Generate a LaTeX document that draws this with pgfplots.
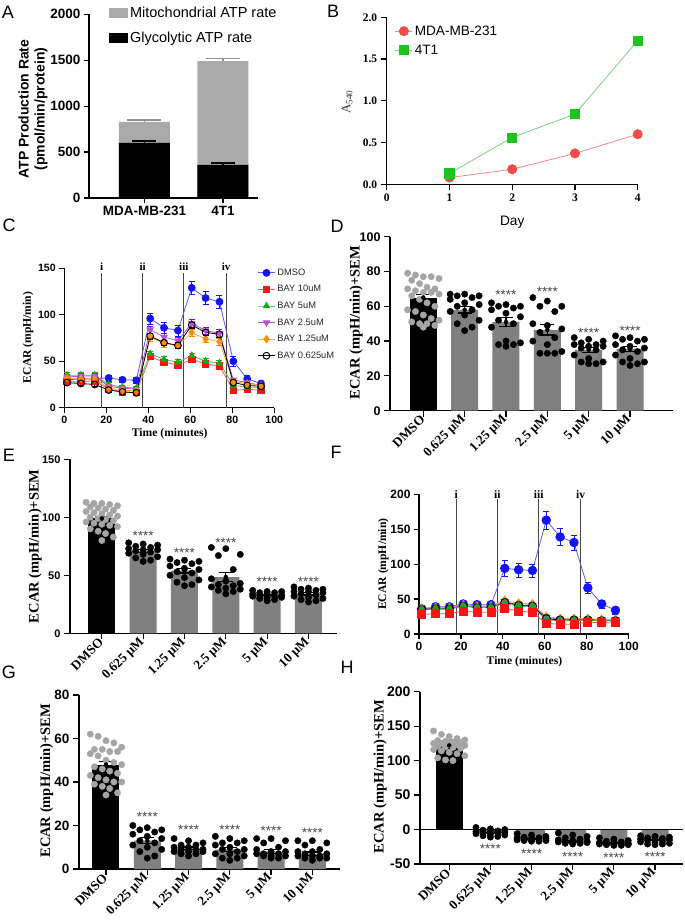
\documentclass[border=0pt]{standalone}
\usepackage{fontspec}
\setmainfont{Liberation Serif}
\setsansfont{Liberation Sans}
\usepackage{pgfplots}
\usepackage{pgfplotstable}
\pgfplotsset{compat=1.18}

\definecolor{atpgray}{RGB}{170,170,170}
\definecolor{bargray}{RGB}{128,128,128}
\definecolor{dotgray}{RGB}{165,165,165}
\definecolor{mdared}{RGB}{240,75,75}
\definecolor{mdaline}{RGB}{245,135,135}
\definecolor{tgreen}{RGB}{30,195,30}
\definecolor{tline}{RGB}{120,210,120}
\definecolor{cblue}{RGB}{20,20,250}
\definecolor{cblueL}{RGB}{90,90,250}
\definecolor{cred}{RGB}{250,20,20}
\definecolor{credL}{RGB}{250,90,90}
\definecolor{cgreen}{RGB}{20,170,20}
\definecolor{cgreenL}{RGB}{80,190,80}
\definecolor{cpurp}{RGB}{160,0,210}
\definecolor{cpurpL}{RGB}{180,80,220}
\definecolor{corange}{RGB}{250,140,0}
\definecolor{corangeL}{RGB}{250,170,70}
\definecolor{vline}{RGB}{70,70,70}
\definecolor{stargray}{RGB}{70,70,70}

% Seahorse time course, panel C
\pgfplotstableread{
t    a    ae  b    be  c    ce  d    de  e    ee  f    fe
1.3  30   4   28   2   35   3   33   3   32   3   27   2
7.9  31   4   28   2   35   3   34   3   31   3   26   2
14.5 31   4   29   2   35   3   34   3   31   3   25   2
21.1 32   3   20   2   25   2   23   2   21   2   19   2
27.7 30   3   17   2   22   2   21   2   19   2   17   2
34.3 29.5 3   16.5 2   21   2   20   2   18   2   16   2
40.9 96   6   55   3   58   3   84   4   76   4   77   3
47.5 86   6   49   3   52   3   76   4   69   4   70   3
54.1 83   6   46   3   49   3   72   4   67   3   67   3
60.7 129  7   52   3   56   3   91   4   81   4   89   3
67.3 118  7   47   3   50   3   83   4   74   4   81   3
73.9 114  7   45   3   48   3   80   4   71   4   79   3
80.5 50   5   18.5 2   24   2   30   2   28   2   27   2
87.1 31   4   20   2   22   2   27   2   26   2   24   2
93.7 26   3   18.5 2   22   2   24   2   24   2   23   2
}\ctab

% panel F
\pgfplotstableread{
t    a    ae  b    be  c    ce  d    de  e    ee  f    fe
1.3  36   4   28   3   35   3   36   3   37   3   35   3
7.9  39   4   29   3   36   3   37   3   38   3   36   3
14.5 39   4   29   3   36   3   37   3   38   3   36   3
21.1 43   5   33   3   40   3   41   3   42   3   40   3
27.7 42   5   31   3   38   3   39   3   40   3   38   3
34.3 42   5   31   3   38   3   39   3   40   3   38   3
40.9 94   11  37   3   44   3   46   3   48   3   45   3
47.5 92   10  33   3   40   3   42   3   44   3   41   3
54.1 91   9   31   3   39   3   41   3   43   3   40   3
60.7 163  13  15   3   20   3   24   3   25   3   22   3
67.3 139  12  14   3   19   3   21   3   22   3   20   3
73.9 131  11  14   3   19   3   21   3   22   3   20   3
80.5 66   8   17   3   20   3   21   3   22   3   20   3
87.1 43   6   16   3   19   3   20   3   21   3   19   3
93.7 34   5   16   3   19   3   20   3   21   3   19   3
}\ftab

% DMSO individual points (o = horizontal jitter), panels D E G H
\pgfplotstableread{
o      d   e    g   h
-0.38  79  113  62  143
-0.19  78  112  61  138
0.0    77  112  59  135
0.19   77  111  58  132
0.38   76  110  56  130
-0.28  75  109  55  129
-0.09  73  108  55  128
0.09   71  107  54  127
0.28   70  106  54  126
-0.38  70  105  53  125
-0.19  69  104  52  125
0.0    68  103  50  124
0.19   68  102  49  123
0.38   67  101  48  122
-0.28  66  100  47  121
-0.09  64  99   46  120
0.09   62  98   45  119
0.28   60  97   44  118
-0.38  58  96   43  116
-0.19  57  95   42  114
0.0    55  94   41  112
0.19   53  93   40  110
0.38   52  92   40  107
-0.28  51  90   39  104
-0.09  50  88   38  101
0.09   50  86   37  100
0.28   49  83   35  125
0.0    48  80   34  127
}\dmso

% treated groups individual points
\pgfplotstableread{
o     D1 D2 D3 D4 D5  E1 E2 E3 E4 E5  G1 G2 G3 G4 G5  H1  H2  H3  H4  H5
-0.35 67 62 65 42 43  78 64 74 37 40  20 14 15 14 13  3   -6  -5  -12 -9
0.0   67 61 63 41 42  77 63 73 36 39  19 13 14 14 13  1   -8  -8  -14 -10
0.35  66 60 60 40 41  76 62 68 36 38  18 12 13 13 12  0   -10 -10 -16 -11
-0.18 66 60 60 39 41  75 61 67 35 38  18 11 12 12 11  -1  -11 -12 -17 -12
0.18  65 59 57 38 40  74 60 55 35 37  17 11 12 10 9   -2  -12 -14 -18 -13
-0.35 64 58 50 38 38  73 58 47 34 36  16 10 11 9  8   -3  -12 -15 -19 -14
0.0   62 56 49 37 37  72 56 45 34 36  15 10 10 8  8   -3  -13 -16 -19 -15
0.35  61 54 47 37 36  72 55 43 33 35  14 9  9  8  7   -4  -13 -17 -20 -15
-0.18 60 52 45 36 35  71 53 42 33 34  13 9  9  7  7   -5  -14 -17 -20 -16
0.18  58 50 42 35 34  70 52 41 32 33  12 9  8  7  6   -5  -14 -18 -21 -17
-0.35 57 48 40 32 32  69 50 40 32 32  11 8  7  7  6   -6  -15 -18 -21 -18
0.0   55 40 38 30 30  68 48 39 31 31  10 8  7  6  6   -7  -15 -19 -22 -19
0.35  52 39 34 28 28  66 46 38 31 30  9  8  6  6  5   -8  -16 -19 -22 -20
-0.18 50 38 33 28 28  65 44 37 30 29  8  7  5  6  5   -9  -16 -20 -22 -21
0.18  48 38 33 27 27  63 42 36 29 28  6  7  5  5  5   -10 -17 -20 -23 -21
0.0   46 37 33 27 26  62 41 34 28 27  5  6  4  5  4   -11 -17 -21 -23 -22
}\grp

\pgfplotsset{
  base/.style={scale only axis, anchor=south west, axis lines=left,
    axis line style={-, line width=1.2pt},
    every tick/.style={black, line width=1.2pt},
    tick align=outside, major tick length=5pt,
    /pgf/number format/assume math mode=true,
    /pgf/number format/1000 sep={},
    clip=false},
  barax/.style={base, xtick={0,...,5}, major tick length=6pt,
    xticklabels={DMSO,0.625 μM,1.25 μM,2.5 μM,5 μM,10 μM},
    xticklabel style={font=\rmfamily\bfseries\fontsize{13.2}{14}\selectfont, rotate=45, anchor=east, inner sep=1pt},
    ylabel={ECAR (mpH/min)+SEM},
    ylabel style={font=\rmfamily\bfseries\fontsize{14.5}{15}\selectfont, anchor=center}},
  tsax/.style={base, xmin=0, xmax=100, xtick={0,20,...,100},
    xlabel={Time (minutes)}, ylabel={ECAR (mpH/min)},
    label style={font=\rmfamily\bfseries\fontsize{11.6}{12}\selectfont, anchor=center}},
  vl/.style={vline, line width=1pt, forget plot},
  dotB/.style={only marks, mark=*, mark size=3.2pt, color=black},
  dotG/.style={only marks, mark=*, mark size=3.2pt, color=dotgray},
  errB/.style={only marks, mark=none, forget plot,
    error bars/y dir=both, error bars/y explicit,
    error bars/error bar style={black, line width=1.2pt},
    error bars/error mark options={rotate=90, mark size=7pt, line width=1.2pt, black}},
  ts/.style n args={3}{color=#1, line width=0.8pt, mark=#3, mark options={fill=#2, draw=#2, solid},
    error bars/y dir=both, error bars/y explicit,
    error bars/error bar style={color=#2, line width=0.8pt},
    error bars/error mark options={rotate=90, mark size=3pt, color=#2}},
}

\newcommand{\stars}[2]{\node[font=\sffamily\fontsize{13.5}{13.5}\selectfont, text=stargray, inner sep=0pt, yshift=-3pt] at (axis cs:#1,#2) {****};}

\begin{document}
\begin{tikzpicture}
\path[use as bounding box] (0pt,0pt) rectangle (685pt,922pt);

% panel letters
\begin{scope}[every node/.style={font=\sffamily\fontsize{18}{18}\selectfont, inner sep=0pt}]
\node at (8pt,910pt) {A};
\node at (333pt,911pt) {B};
\node at (9pt,697pt) {C};
\node at (337pt,696pt) {D};
\node at (9pt,467pt) {E};
\node at (336pt,470pt) {F};
\node at (9pt,250pt) {G};
\node at (347pt,255pt) {H};
\end{scope}

% ---------------- A ----------------
\begin{axis}[base, at={(89pt,724pt)}, width=169pt, height=183.7pt,
  xmin=-0.707, xmax=1.446, ymin=0, ymax=2000,
  ytick={0,500,...,2000}, xtick={0,1}, xticklabels={MDA-MB-231,4T1},
  tick label style={font=\sffamily\bfseries\fontsize{13.5}{14}\selectfont},
  ylabel={ATP Production Rate\\(pmol/min/protein)},
  ylabel style={font=\sffamily\bfseries\fontsize{14}{16}\selectfont, align=center,
    at={(axis description cs:-0.331,0.484)}, anchor=center},
  legend style={at={(axis description cs:0.1,1.06)}, anchor=north west, draw=none, fill=none,
    font=\sffamily\fontsize{14.5}{15}\selectfont, row sep=8.5pt},
  legend cell align=left]
\addplot[ybar, bar width=51pt, bar shift=0pt, fill=atpgray, draw=none,
  error bars/y dir=plus, error bars/y explicit,
  error bars/error bar style={atpgray!85!black, line width=1.2pt},
  error bars/error mark options={rotate=90, mark size=17pt, line width=1.2pt, atpgray!85!black},
  legend image code/.code={\fill[atpgray] (0pt,-5pt) rectangle (19pt,5pt);}]
  coordinates {(0,830) +- (0,20) (1,1490) +- (0,25)};
\addlegendentry{Mitochondrial ATP rate}
\addplot[ybar, bar width=51pt, bar shift=0pt, fill=black, draw=none,
  error bars/y dir=plus, error bars/y explicit,
  error bars/error bar style={black, line width=1.2pt},
  error bars/error mark options={rotate=90, mark size=12pt, line width=1.2pt, black},
  legend image code/.code={\fill[black] (0pt,-5pt) rectangle (19pt,5pt);}]
  coordinates {(0,600) +- (0,20) (1,360) +- (0,20)};
\addlegendentry{Glycolytic ATP rate}
\end{axis}

% ---------------- B ----------------
\begin{axis}[base, at={(386.7pt,737.7pt)}, width=251pt, height=167pt,
  xmin=0, xmax=4, ymin=0, ymax=2, xtick={0,...,4}, ytick={0,0.5,...,2},
  major tick length=6pt,
  tick label style={font=\rmfamily\bfseries\fontsize{11.5}{12}\selectfont},
  yticklabel style={/pgf/number format/.cd, fixed, fixed zerofill, precision=1},
  xlabel={Day},
  xlabel style={font=\sffamily\fontsize{13.7}{14}\selectfont, at={(axis description cs:0.5,-0.226)}, anchor=center},
  ylabel={A\textsubscript{540}},
  ylabel style={font=\rmfamily\fontsize{13}{14}\selectfont, text=black!80, at={(axis description cs:-0.158,0.493)}, anchor=center},
  legend style={at={(axis description cs:0.02,0.975)}, anchor=north west, draw=none, fill=none,
    font=\sffamily\fontsize{13.6}{14}\selectfont, row sep=4pt},
  legend cell align=left]
\addplot[color=mdaline, line width=0.8pt, mark=*, mark size=4.6pt, mark options={fill=mdared, draw=mdared}]
  coordinates {(1,0.08) (2,0.18) (3,0.37) (4,0.60)};
\addlegendentry{MDA-MB-231}
\addplot[color=tline, line width=0.8pt, mark=square*, mark size=4.6pt, mark options={fill=tgreen, draw=tgreen}]
  coordinates {(1,0.13) (2,0.56) (3,0.84) (4,1.72)};
\addlegendentry{4T1}
\end{axis}

% ---------------- C ----------------
\begin{axis}[tsax, at={(64.3pt,514.3pt)}, width=210pt, height=139.4pt,
  ymin=0, ymax=150, ytick={0,50,100,150},
  tick label style={font=\sffamily\bfseries\fontsize{10.6}{11}\selectfont},
  xlabel style={at={(axis description cs:0.502,-0.189)}},
  ylabel style={at={(axis description cs:-0.173,0.504)}},
  legend style={at={(axis description cs:0.905,1.026)}, anchor=north west, draw=none, fill=none,
    font=\sffamily\fontsize{9.3}{10}\selectfont, text=black!85, row sep=4.6pt},
  legend cell align=left]
\addplot[vl] coordinates {(17.8,0) (17.8,145)};
\addplot[vl] coordinates {(37.3,0) (37.3,145)};
\addplot[vl] coordinates {(56.9,0) (56.9,145)};
\addplot[vl] coordinates {(77.1,0) (77.1,145)};
\addplot[ts={cblueL}{cblue}{*}, mark size=3.5pt] table[x=t, y=a, y error=ae] {\ctab};
\addlegendentry{DMSO}
\addplot[ts={credL}{cred}{square*}, mark size=3.2pt] table[x=t, y=b, y error=be] {\ctab};
\addlegendentry{BAY 10uM}
\addplot[ts={cgreenL}{cgreen}{triangle*}, mark size=3.6pt] table[x=t, y=c, y error=ce] {\ctab};
\addlegendentry{BAY 5uM}
\addplot[ts={cpurpL}{cpurp}{triangle*}, mark size=3.6pt, mark options={rotate=180}] table[x=t, y=d, y error=de] {\ctab};
\addlegendentry{BAY 2.5uM}
\addplot[ts={corangeL}{corange}{diamond*}, mark size=3.6pt] table[x=t, y=e, y error=ee] {\ctab};
\addlegendentry{BAY 1.25uM}
\addplot[ts={black}{black}{o}, mark size=3.4pt, mark options={fill=white, line width=1pt}] table[x=t, y=f, y error=fe] {\ctab};
\addlegendentry{BAY 0.625uM}
\begin{scope}[every node/.style={font=\rmfamily\bfseries\fontsize{11}{11}\selectfont}]
\node at (axis cs:17.8,151.5) {i};
\node at (axis cs:37.3,151.5) {ii};
\node at (axis cs:56.9,151.5) {iii};
\node at (axis cs:77.1,151.5) {iv};
\end{scope}
\end{axis}

% ---------------- D ----------------
\begin{axis}[barax, at={(390pt,511.3pt)}, width=283pt, height=174pt,
  xmin=-0.806, xmax=6.04, ymin=0, ymax=100, ytick={0,20,...,100},
  yticklabel style={font=\sffamily\bfseries\fontsize{12.5}{13}\selectfont},
  ylabel style={at={(axis description cs:-0.12,0.507)}}]
\addplot[ybar, bar width=27pt, bar shift=0pt, fill=black, draw=none] coordinates {(0,65)};
\addplot[ybar, bar width=27pt, bar shift=0pt, fill=bargray, draw=none]
  coordinates {(1,58) (2,51) (3,46.5) (4,35) (5,35.5)};
\addplot[dotG] table[x=o, y=d] {\dmso};
\pgfplotsinvokeforeach{1,...,5}{\addplot[dotB] table[x expr=\thisrow{o}+#1, y=D#1] {\grp};}
\addplot[errB] coordinates {(0,65) +- (0,2) (1,58) +- (0,1.8) (2,51) +- (0,2.5) (3,46.5) +- (0,3) (4,35) +- (0,1.5) (5,35.5) +- (0,1.5)};
\stars{2}{68.4}\stars{3}{70}\stars{4}{46.7}\stars{5}{47.7}
\end{axis}

% ---------------- E ----------------
\begin{axis}[barax, at={(70pt,288.7pt)}, width=267pt, height=174pt,
  xmin=-0.77, xmax=5.69, ymin=0, ymax=150, ytick={0,50,100,150},
  yticklabel style={font=\sffamily\bfseries\fontsize{11}{12}\selectfont},
  ylabel style={at={(axis description cs:-0.131,0.5)}}]
\addplot[ybar, bar width=27pt, bar shift=0pt, fill=black, draw=none] coordinates {(0,99)};
\addplot[ybar, bar width=27pt, bar shift=0pt, fill=bargray, draw=none]
  coordinates {(1,71) (2,54) (3,48.5) (4,33) (5,34)};
\addplot[dotG] table[x=o, y=e] {\dmso};
\pgfplotsinvokeforeach{1,...,5}{\addplot[dotB] table[x expr=\thisrow{o}+#1, y=E#1] {\grp};}
\addplot[errB] coordinates {(0,99) +- (0,2) (1,71) +- (0,1.2) (2,54) +- (0,2) (3,48.5) +- (0,4) (4,33) +- (0,0.7) (5,34) +- (0,1)};
\stars{1}{86.6}\stars{2}{72}\stars{3}{80.6}\stars{4}{47}\stars{5}{47}
\end{axis}

% ---------------- F ----------------
\begin{axis}[tsax, at={(419pt,288pt)}, width=209.7pt, height=139.7pt,
  ymin=0, ymax=200, ytick={0,50,...,200},
  tick label style={font=\sffamily\bfseries\fontsize{12}{12}\selectfont},
  xlabel style={at={(axis description cs:0.503,-0.198)}},
  ylabel style={at={(axis description cs:-0.17,0.5)}}]
\addplot[vl] coordinates {(17.8,0) (17.8,200)};
\addplot[vl] coordinates {(37.4,0) (37.4,200)};
\addplot[vl] coordinates {(57.1,0) (57.1,200)};
\addplot[vl] coordinates {(77.1,0) (77.1,200)};
\addplot[ts={cblueL}{cblue}{*}, mark size=4.3pt] table[x=t, y=a, y error=ae] {\ftab};
\addplot[ts={corangeL}{corange}{diamond*}, mark size=4.3pt] table[x=t, y=e, y error=ee] {\ftab};
\addplot[ts={cpurpL}{cpurp}{triangle*}, mark size=4.3pt, mark options={rotate=180}] table[x=t, y=d, y error=de] {\ftab};
\addplot[ts={black}{black}{o}, mark size=4pt, mark options={fill=white, line width=1pt}] table[x=t, y=f, y error=fe] {\ftab};
\addplot[ts={cgreenL}{cgreen}{triangle*}, mark size=4.3pt] table[x=t, y=c, y error=ce] {\ftab};
\addplot[ts={credL}{cred}{square*}, mark size=4pt] table[x=t, y=b, y error=be] {\ftab};
\begin{scope}[every node/.style={font=\rmfamily\bfseries\fontsize{11.5}{11}\selectfont, fill=white, inner sep=1pt}]
\node at (axis cs:17.8,200) {i};
\node at (axis cs:37.4,200) {ii};
\node at (axis cs:57.1,200) {iii};
\node at (axis cs:77.1,200) {iv};
\end{scope}
\end{axis}

% ---------------- G ----------------
\begin{axis}[barax, at={(79pt,53pt)}, width=261pt, height=174pt,
  xmin=-0.654, xmax=5.67, ymin=0, ymax=80, ytick={0,20,...,80},
  yticklabel style={font=\sffamily\bfseries\fontsize{13.5}{14}\selectfont},
  ylabel style={at={(axis description cs:-0.124,0.507)}}]
\addplot[ybar, bar width=27pt, bar shift=0pt, fill=black, draw=none] coordinates {(0,48)};
\addplot[ybar, bar width=27pt, bar shift=0pt, fill=bargray, draw=none]
  coordinates {(1,13) (2,9.5) (3,9) (4,8) (5,7)};
\addplot[dotG] table[x=o, y=g] {\dmso};
\pgfplotsinvokeforeach{1,...,5}{\addplot[dotB] table[x expr=\thisrow{o}+#1, y=G#1] {\grp};}
\addplot[errB] coordinates {(0,48) +- (0,1.5) (1,13) +- (0,1.3) (2,9.5) +- (0,0.6) (3,9) +- (0,0.8) (4,8) +- (0,0.8) (5,7) +- (0,0.8)};
\stars{1}{25.3}\stars{2}{19.5}\stars{3}{19.5}\stars{4}{18.7}\stars{5}{17.9}
\end{axis}

% ---------------- H ----------------
\begin{axis}[barax, at={(420pt,58pt)}, width=263pt, height=172.3pt,
  xmin=-0.71, xmax=5.68, ymin=-50, ymax=200, ytick={-50,0,...,200},
  yticklabel style={font=\sffamily\bfseries\fontsize{14}{14}\selectfont},
  ylabel style={at={(axis description cs:-0.152,0.507)}}]
\addplot[ybar, bar width=27pt, bar shift=0pt, fill=black, draw=none] coordinates {(0,122)};
\addplot[ybar, bar width=27pt, bar shift=0pt, fill=bargray, draw=none]
  coordinates {(1,-5) (2,-14) (3,-17) (4,-20) (5,-15)};
\addplot[black, line width=1.2pt, forget plot] coordinates {(-0.71,0) (5.68,0)};
\addplot[dotG] table[x=o, y=h] {\dmso};
\pgfplotsinvokeforeach{1,...,5}{\addplot[dotB] table[x expr=\thisrow{o}+#1, y=H#1] {\grp};}
\addplot[errB] coordinates {(0,122) +- (0,3) (1,-5) +- (0,1) (2,-14) +- (0,0.8) (3,-17) +- (0,1) (4,-20) +- (0,0.7) (5,-15) +- (0,1)};
\stars{1}{-24}\stars{2}{-31}\stars{3}{-35}\stars{4}{-37}\stars{5}{-35}
\end{axis}
\end{tikzpicture}
\end{document}
